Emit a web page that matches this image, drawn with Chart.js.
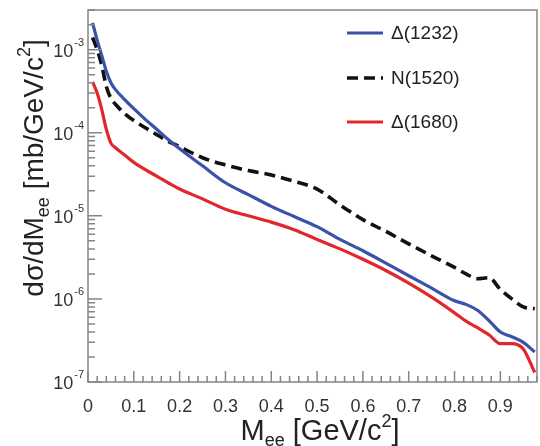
<!DOCTYPE html>
<html>
<head>
<meta charset="utf-8">
<title>dσ/dM_ee</title>
<script src="https://cdn.jsdelivr.net/npm/chart.js@4.4.1/dist/chart.umd.min.js"></script>
<style>
  html, body { margin: 0; padding: 0; background: #fff; }
</style>
</head>
<body>
<canvas id="massChart" width="540" height="446"></canvas>
<script>
// Invariant mass bins [GeV/c^2]
const massValues = [0.01, 0.02, 0.03, 0.04, 0.05, 0.06, 0.08, 0.10, 0.125, 0.15, 0.175, 0.20,
  0.25, 0.30, 0.35, 0.40, 0.45, 0.50, 0.55, 0.60, 0.65, 0.70, 0.75, 0.80, 0.825, 0.85,
  0.875, 0.90, 0.925, 0.95, 0.975];

// dsigma/dM_ee [mb/GeV/c^2] for each resonance
const delta1232 = [2.1e-3, 1.3e-3, 8.5e-4, 5.5e-4, 4.0e-4, 3.3e-4, 2.5e-4, 1.95e-4, 1.45e-4, 1.1e-4, 8.3e-5, 6.4e-5,
  4.0e-5, 2.5e-5, 1.8e-5, 1.3e-5, 9.8e-6, 7.4e-6, 5.2e-6, 3.8e-6, 2.7e-6, 1.9e-6, 1.35e-6, 9.5e-7, 8.6e-7, 7.3e-7,
  5.5e-7, 4.0e-7, 3.5e-7, 3.0e-7, 2.3e-7];
const n1520 = [1.4e-3, 1.0e-3, 6.5e-4, 3.6e-4, 2.6e-4, 2.2e-4, 1.7e-4, 1.4e-4, 1.15e-4, 9.5e-5, 7.9e-5, 6.8e-5,
  5.0e-5, 4.1e-5, 3.5e-5, 3.1e-5, 2.6e-5, 2.1e-5, 1.35e-5, 9.0e-6, 6.5e-6, 4.6e-6, 3.3e-6, 2.4e-6, 2.0e-6, 1.75e-6,
  1.8e-6, 1.3e-6, 1.0e-6, 8.0e-7, 7.6e-7];
const delta1680 = [4.1e-4, 3.0e-4, 1.9e-4, 1.1e-4, 7.5e-5, 6.6e-5, 5.4e-5, 4.4e-5, 3.6e-5, 3.0e-5, 2.5e-5, 2.1e-5,
  1.6e-5, 1.2e-5, 1.0e-5, 8.4e-6, 6.8e-6, 5.2e-6, 4.0e-6, 3.0e-6, 2.2e-6, 1.55e-6, 1.05e-6, 6.8e-7, 5.4e-7, 4.5e-7,
  3.7e-7, 2.9e-7, 2.9e-7, 2.5e-7, 1.3e-7];

const seriesLabels = ['Δ(1232)', 'N(1520)', 'Δ(1680)'];
const xTickLabels = ['0', '0.1', '0.2', '0.3', '0.4', '0.5', '0.6', '0.7', '0.8', '0.9'];
const yDecades = [-7, -6, -5, -4, -3];

const FONT = '"Liberation Sans", Arial, Helvetica, sans-serif';
const AXIS_GREY = '#858585';

function toPoints(values) {
    return values.map((v, i) => ({ x: massValues[i], y: v }));
}

// Draw a run of text pieces with their own size and vertical shift
function drawRich(ctx, parts, cx, baseY) {
    let total = 0;
    parts.forEach(p => {
        ctx.font = p.size + 'px ' + FONT;
        p.w = ctx.measureText(p.t).width;
        total += p.w;
    });
    let x = cx - total / 2;
    ctx.textAlign = 'left';
    ctx.textBaseline = 'alphabetic';
    parts.forEach(p => {
        ctx.font = p.size + 'px ' + FONT;
        ctx.fillText(p.t, x, baseY + (p.dy || 0));
        x += p.w;
    });
}

// ROOT-like frame: inward ticks, 10^n labels, titles and legend
const frameDecor = {
    id: 'frameDecor',
    afterDraw(chart) {
        const ctx = chart.ctx;
        const a = chart.chartArea;
        const xs = chart.scales.x;
        const ys = chart.scales.y;

        ctx.save();
        ctx.strokeStyle = AXIS_GREY;
        ctx.lineWidth = 1.5;
        ctx.strokeRect(a.left, a.top, a.right - a.left, a.bottom - a.top);

        ctx.beginPath();
        for (let i = 0; i * 0.02 <= xs.max + 1e-9; i++) {
            const px = xs.getPixelForValue(i * 0.02);
            const len = i % 5 === 0 ? 11 : 6;
            ctx.moveTo(px, a.bottom);
            ctx.lineTo(px, a.bottom - len);
        }
        yDecades.forEach(e => {
            for (let m = 1; m <= 9; m++) {
                const v = m * Math.pow(10, e);
                if (v < ys.min || v > ys.max) continue;
                const py = ys.getPixelForValue(v);
                ctx.moveTo(a.left, py);
                ctx.lineTo(a.left + (m === 1 ? 14 : 7), py);
            }
        });
        ctx.stroke();

        // y tick labels 10^n
        ctx.fillStyle = '#333';
        ctx.textBaseline = 'middle';
        yDecades.forEach(e => {
            const py = ys.getPixelForValue(Math.pow(10, e));
            ctx.textAlign = 'right';
            ctx.font = '11px ' + FONT;
            const sup = String(e);
            ctx.fillText(sup, a.left - 4, py - 7);
            const supW = ctx.measureText(sup).width;
            ctx.font = '18px ' + FONT;
            ctx.fillText('10', a.left - 5 - supW, py + 2);
        });

        // axis titles
        ctx.fillStyle = '#222';
        drawRich(ctx, [
            { t: 'M', size: 29 },
            { t: 'ee', size: 18, dy: 6 },
            { t: ' [GeV/c', size: 29 },
            { t: '2', size: 18, dy: -13 },
            { t: ']', size: 29 }
        ], 320, 440);

        ctx.save();
        ctx.translate(43, 168);
        ctx.rotate(-Math.PI / 2);
        drawRich(ctx, [
            { t: 'dσ/dM', size: 28 },
            { t: 'ee', size: 18, dy: 6 },
            { t: ' [mb/GeV/c', size: 28 },
            { t: '2', size: 18, dy: -13 },
            { t: ']', size: 28 }
        ], 0, 0);
        ctx.restore();

        // legend
        const rows = [33, 78, 122];
        chart.data.datasets.forEach((ds, i) => {
            const y = rows[i];
            ctx.strokeStyle = ds.borderColor;
            ctx.lineWidth = ds.borderWidth;
            ctx.setLineDash(ds.borderDash || []);
            ctx.beginPath();
            ctx.moveTo(347, y);
            ctx.lineTo(383, y);
            ctx.stroke();
            ctx.setLineDash([]);
            ctx.fillStyle = '#222';
            ctx.font = '19px ' + FONT;
            ctx.textAlign = 'left';
            ctx.textBaseline = 'middle';
            ctx.fillText(ds.label, 391, y + 1);
        });
        ctx.restore();
    }
};

const ctx = document.getElementById('massChart').getContext('2d');
new Chart(ctx, {
    type: 'line',
    data: {
        datasets: [
            {
                label: seriesLabels[0],
                data: toPoints(delta1232),
                borderColor: '#3b52a8',
                borderWidth: 3.2,
                pointRadius: 0,
                cubicInterpolationMode: 'monotone'
            },
            {
                label: seriesLabels[1],
                data: toPoints(n1520),
                borderColor: '#111111',
                borderWidth: 3.6,
                borderDash: [11, 6],
                pointRadius: 0,
                cubicInterpolationMode: 'monotone'
            },
            {
                label: seriesLabels[2],
                data: toPoints(delta1680),
                borderColor: '#e3262b',
                borderWidth: 3.2,
                pointRadius: 0,
                cubicInterpolationMode: 'monotone'
            }
        ]
    },
    options: {
        responsive: false,
        animation: false,
        devicePixelRatio: 1,
        layout: { padding: { top: 10, right: 3, left: 0, bottom: 0 } },
        plugins: {
            legend: { display: false },
            tooltip: { enabled: false }
        },
        scales: {
            x: {
                type: 'linear',
                min: 0,
                max: 0.98,
                grid: { display: false },
                border: { display: false },
                ticks: {
                    stepSize: 0.1,
                    includeBounds: false,
                    autoSkip: false,
                    maxRotation: 0,
                    padding: 6,
                    color: '#333',
                    font: { family: FONT, size: 18 },
                    callback: function (value) {
                        const i = Math.round(value * 10);
                        return xTickLabels[i] !== undefined ? xTickLabels[i] : '';
                    }
                },
                afterFit: function (scale) { scale.height = 64; }
            },
            y: {
                type: 'logarithmic',
                min: 1e-7,
                max: 3e-3,
                grid: { display: false },
                border: { display: false },
                ticks: { display: false },
                afterFit: function (scale) { scale.width = 88; }
            }
        }
    },
    plugins: [frameDecor]
});
</script>
</body>
</html>
